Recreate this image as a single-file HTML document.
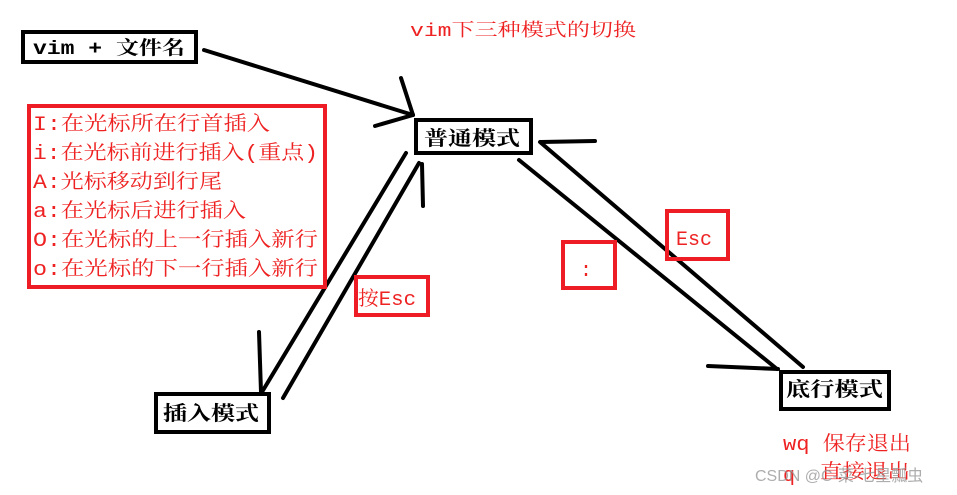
<!DOCTYPE html>
<html><head><meta charset="utf-8"><style>
body{margin:0;background:#fff;}
svg{display:block;}
.r{font-family:"Liberation Mono","Noto Serif CJK SC",monospace;fill:#ee2222;}
.b{font-family:"Liberation Mono","Noto Serif CJK SC",serif;font-weight:bold;fill:#000;}
</style></head><body>
<svg width="957" height="495" viewBox="0 0 957 495" xmlns="http://www.w3.org/2000/svg">
<g fill="none" stroke="#000" stroke-width="4" stroke-linecap="round">
<rect x="23" y="32" width="173" height="30"/>
<rect x="416" y="120" width="115" height="33"/>
<rect x="156" y="394" width="113" height="38"/>
<rect x="781" y="372" width="108" height="37"/>
<line x1="204" y1="50" x2="413" y2="115"/>
<line x1="401" y1="78" x2="413" y2="115"/>
<line x1="375" y1="126" x2="413" y2="115"/>
<line x1="406" y1="153" x2="262" y2="392"/>
<line x1="419" y1="163" x2="283" y2="398"/>
<line x1="422" y1="164" x2="423" y2="206"/>
<line x1="259" y1="332" x2="261" y2="392"/>
<line x1="540" y1="142" x2="803" y2="367"/>
<line x1="541" y1="142" x2="595" y2="141"/>
<line x1="519" y1="160" x2="777" y2="369"/>
<line x1="708" y1="366" x2="778" y2="369"/>
</g>
<g fill="none" stroke="#ee1c24" stroke-width="4">
<rect x="29" y="106" width="296" height="181"/>
<rect x="356" y="277" width="72" height="38"/>
<rect x="563" y="242" width="52" height="46"/>
<rect x="667" y="211" width="61" height="48"/>
</g>
<text class="b" x="33" y="54" font-size="19" textLength="152" lengthAdjust="spacingAndGlyphs">vim + 文件名</text>
<text class="b" x="424" y="145" font-size="20" textLength="96" lengthAdjust="spacingAndGlyphs">普通模式</text>
<text class="b" x="163" y="420" font-size="20" textLength="96" lengthAdjust="spacingAndGlyphs">插入模式</text>
<text class="b" x="786" y="396" font-size="20" textLength="97" lengthAdjust="spacingAndGlyphs">底行模式</text>
<text class="r" x="410" y="36" font-size="18" textLength="226" lengthAdjust="spacingAndGlyphs">vim下三种模式的切换</text>
<g class="r" font-size="20">
<text x="33" y="130" textLength="237" lengthAdjust="spacingAndGlyphs">I:在光标所在行首插入</text>
<text x="33" y="159" textLength="285" lengthAdjust="spacingAndGlyphs">i:在光标前进行插入(重点)</text>
<text x="33" y="188" textLength="189" lengthAdjust="spacingAndGlyphs">A:光标移动到行尾</text>
<text x="33" y="217" textLength="213" lengthAdjust="spacingAndGlyphs">a:在光标后进行插入</text>
<text x="33" y="246" textLength="285" lengthAdjust="spacingAndGlyphs">O:在光标的上一行插入新行</text>
<text x="33" y="275" textLength="285" lengthAdjust="spacingAndGlyphs">o:在光标的下一行插入新行</text>
<text x="358" y="305" textLength="58" lengthAdjust="spacingAndGlyphs">按Esc</text>
<text x="580" y="276">:</text>
<text x="676" y="245" textLength="36" lengthAdjust="spacingAndGlyphs">Esc</text>
<text x="783" y="450" textLength="128" lengthAdjust="spacingAndGlyphs">wq 保存退出</text>
<text x="783" y="481">q</text>
<text x="820" y="478" textLength="90" lengthAdjust="spacingAndGlyphs">直接退出</text>
</g>
<text x="755" y="481" font-size="16" font-family="Liberation Sans,Noto Sans CJK SC,sans-serif" fill="#999" opacity="0.8">CSDN @C-菜-七星瓢虫</text>
</svg>
</body></html>
